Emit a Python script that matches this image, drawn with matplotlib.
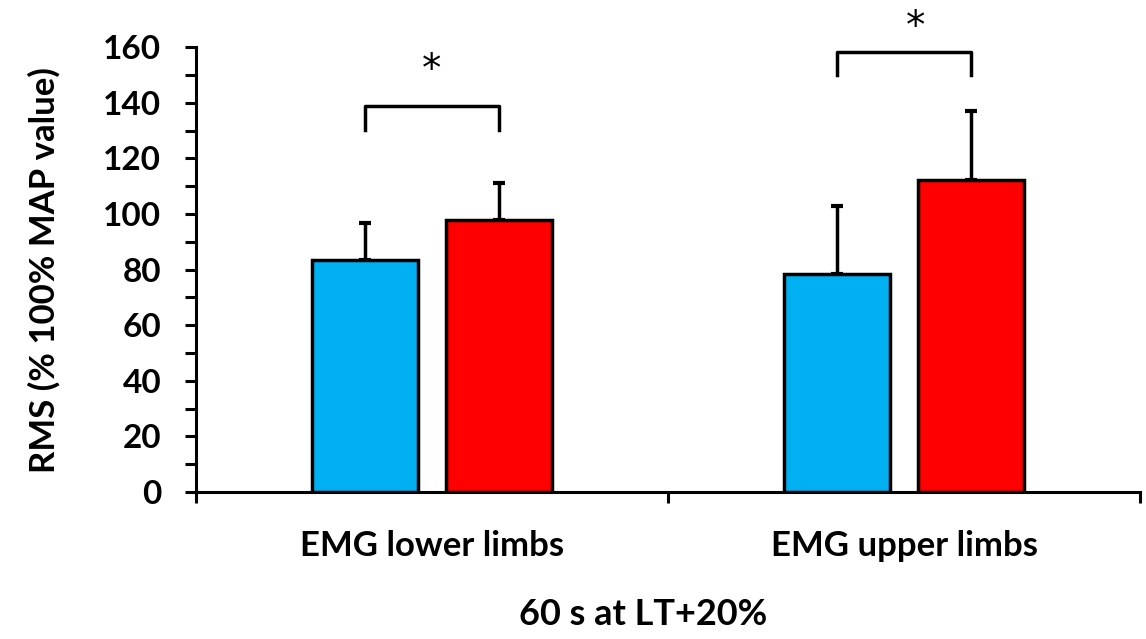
import matplotlib
matplotlib.use("Agg")
import matplotlib.pyplot as plt
import numpy as np

categories = ["EMG lower limbs", "EMG upper limbs"]
blue_vals = [83.3, 78.6]
blue_err = [13.5, 24.3]
red_vals = [97.8, 112.4]
red_err = [13.5, 24.8]
bracket_top = [138.9, 158.3]
bracket_bottom = [130.4, 150.0]
star_y = [152.0, 167.3]
star_dx = [0.0, 0.025]

plt.rcParams['font.family'] = ['Lato', 'DejaVu Sans']

fig = plt.figure(figsize=(11.46, 6.39), dpi=100)
ax = fig.add_axes([0.171, 0.230, 0.824, 0.696])

x = np.arange(len(categories))
w = 0.225
off = 0.142
lw = 2.5
ax.bar(x - off, blue_vals, w, color="#00B0F0", edgecolor="black", linewidth=lw, zorder=3)
ax.bar(x + off, red_vals, w, color="#FF0000", edgecolor="black", linewidth=lw, zorder=3)
ax.errorbar(x - off, blue_vals, yerr=[np.zeros(len(x)), blue_err], fmt="none",
            ecolor="black", elinewidth=2.5, capsize=4, capthick=3, zorder=2)
ax.errorbar(x + off, red_vals, yerr=[np.zeros(len(x)), red_err], fmt="none",
            ecolor="black", elinewidth=2.5, capsize=4, capthick=3, zorder=2)

for i in range(len(x)):
    x0, x1 = x[i] - off, x[i] + off
    ax.plot([x0, x0, x1, x1], [bracket_bottom[i], bracket_top[i], bracket_top[i], bracket_bottom[i]],
            color="black", lw=2.5, clip_on=False, solid_joinstyle="round")
    ax.text(x[i] + star_dx[i], star_y[i], "*", ha="center", va="center",
            fontsize=28, family="DejaVu Sans", clip_on=False)

ax.set_xlim(-0.5, 1.5)
ax.set_ylim(0, 160)
ax.set_yticks(np.arange(0, 161, 20))
ax.set_yticks(np.arange(0, 161, 10), minor=True)
ax.set_xticks(x)
ax.set_xticklabels(categories)
ax.set_xticks([-0.5, 0.5, 1.5], minor=True)

for s in ["top", "right"]:
    ax.spines[s].set_visible(False)
for s in ["left", "bottom"]:
    ax.spines[s].set_linewidth(2.2)
    ax.spines[s].set_color("black")

ax.tick_params(axis="y", which="both", direction="out", length=8, width=2.2, labelsize=24, pad=17)
ax.tick_params(axis="x", which="major", length=0, labelsize=25, pad=27)
ax.tick_params(axis="x", which="minor", direction="out", length=8, width=2.2)
for lab in ax.get_yticklabels() + ax.get_xticklabels():
    lab.set_fontweight("bold")

ax.set_ylabel("RMS (% 100% MAP value)", fontsize=25, fontweight="bold")
ax.yaxis.set_label_coords(-0.143, 0.5)
ax.set_xlabel("60 s at LT+20%", fontsize=26, fontweight="bold")
ax.xaxis.set_label_coords(0.4735, -0.276, transform=ax.transAxes)
ax.xaxis.label.set_va("center")

fig.savefig("out.png", dpi=100)
